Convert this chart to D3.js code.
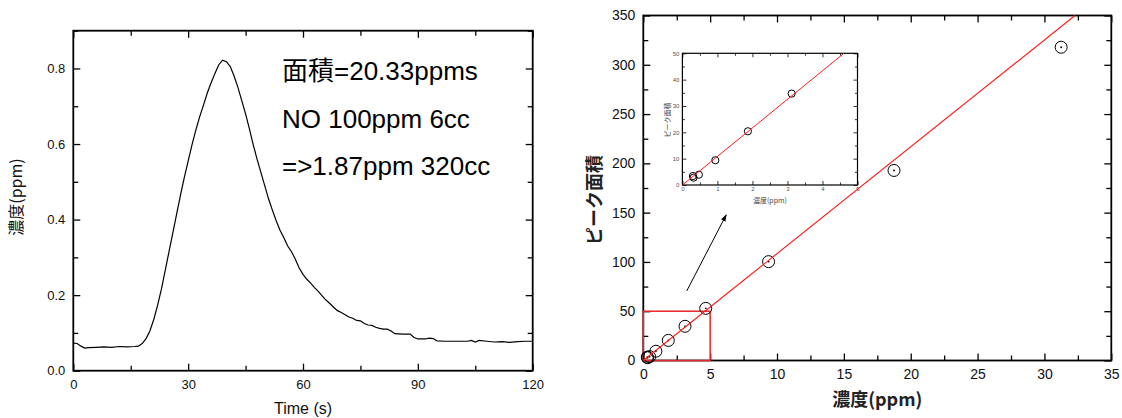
<!DOCTYPE html>
<html>
<head>
<meta charset="utf-8">
<script src="https://cdn.jsdelivr.net/npm/d3@7"></script>
<style>
  body { margin: 0; background: #fff; }
  svg text { font-family: "Liberation Sans", Arial, "Noto Sans CJK JP", sans-serif; }
  .jp { font-family: "Noto Sans CJK JP", "Liberation Sans", sans-serif; }
</style>
</head>
<body>
<div id="chart"></div>
<script>
// left: peak of NO (time vs conc)
var timeSec = [0, 1, 2, 3, 4, 6, 8, 10, 12, 14, 16, 17, 18, 19, 20, 21, 22, 23, 24, 25, 26, 27, 28, 29, 30,
    31, 32, 33, 34, 35, 36, 37, 38, 39, 40, 41, 42, 43, 44, 45, 46, 47, 48, 49, 50, 51, 52, 53, 54, 55, 56,
    57, 58, 59, 60, 61, 62, 63, 64, 65, 66, 67, 68, 69, 70, 71, 72, 73, 74, 75, 76, 77, 78, 79, 80, 81, 82,
    83, 84, 86, 88, 89, 90, 92, 93, 94, 95, 97, 100, 103, 104, 105, 106, 108, 110, 112, 114, 116, 118, 120];
var concPpm = [0.073, 0.072, 0.065, 0.060, 0.061, 0.062, 0.063, 0.062, 0.064, 0.063, 0.064, 0.065, 0.072, 0.085,
    0.105, 0.135, 0.172, 0.215, 0.265, 0.315, 0.365, 0.415, 0.465, 0.512, 0.555, 0.598, 0.637, 0.672, 0.703,
    0.735, 0.762, 0.787, 0.810, 0.822, 0.818, 0.805, 0.780, 0.750, 0.715, 0.680, 0.640, 0.598, 0.560, 0.525,
    0.490, 0.455, 0.425, 0.397, 0.372, 0.352, 0.330, 0.315, 0.295, 0.272, 0.255, 0.242, 0.232, 0.220, 0.210,
    0.198, 0.187, 0.178, 0.168, 0.159, 0.154, 0.148, 0.142, 0.139, 0.133, 0.132, 0.125, 0.121, 0.120, 0.115,
    0.112, 0.110, 0.110, 0.105, 0.098, 0.097, 0.097, 0.088, 0.084, 0.084, 0.086, 0.085, 0.079, 0.078, 0.078,
    0.078, 0.080, 0.076, 0.080, 0.078, 0.076, 0.077, 0.075, 0.077, 0.078, 0.078];
var noteLines = ["面積=20.33ppms", "NO 100ppm 6cc", "=>1.87ppm 320cc"];

// right: calibration (conc vs peak area)
var calibConc = [0.30, 0.32, 0.47, 0.94, 1.87, 3.12, 4.67, 9.37, 18.75, 31.25];
var calibArea = [3.4, 2.8, 3.9, 9.4, 20.4, 34.7, 52.9, 100.3, 192.8, 317.8];
var fitSlope = 10.84;
var zoomBox = [5, 50];          // red box = inset range
var arrowFrom = [3.25, 70.6];
var arrowTo = [6.2, 147.7];

var leftXTicks = [0, 30, 60, 90, 120];
var leftYTicks = [0.0, 0.2, 0.4, 0.6, 0.8];
var rightXTicks = [0, 5, 10, 15, 20, 25, 30, 35];
var rightYTicks = [0, 50, 100, 150, 200, 250, 300, 350];
var insetXTicks = [0, 1, 2, 3, 4, 5];
var insetYTicks = [0, 10, 20, 30, 40, 50];

var svg = d3.select("#chart").append("svg")
    .attr("width", 1122)
    .attr("height", 418);

svg.append("defs").append("marker")
    .attr("id", "arrowhead")
    .attr("viewBox", "0 0 10 10")
    .attr("refX", 9).attr("refY", 5)
    .attr("markerWidth", 7).attr("markerHeight", 7)
    .attr("orient", "auto")
    .append("path")
    .attr("d", "M0,1.5L10,5L0,8.5Z")
    .attr("fill", "#000");

// draws a box frame with inward ticks on all four sides
function drawFrame(g, x, y, o) {
    var xr = x.range(), yr = y.range();
    var sides = [
        { ax: d3.axisBottom(x), t: `translate(0,${yr[0]})`, labels: true, ticks: o.xTicks, minor: o.xMinor },
        { ax: d3.axisTop(x), t: `translate(0,${yr[1]})`, labels: false, ticks: o.xTicks, minor: o.xMinor },
        { ax: d3.axisLeft(y), t: `translate(${xr[0]},0)`, labels: true, ticks: o.yTicks, minor: o.yMinor },
        { ax: d3.axisRight(y), t: `translate(${xr[1]},0)`, labels: false, ticks: o.yTicks, minor: o.yMinor }
    ];
    sides.forEach(function(s, i) {
        var vert = i > 1;
        var major = g.append("g").attr("transform", s.t)
            .call(s.ax.tickValues(s.ticks)
                .tickSizeInner(-o.major).tickSizeOuter(0)
                .tickPadding(vert ? o.padY : o.padX)
                .tickFormat(s.labels ? o[vert ? "yFmt" : "xFmt"] : ""));
        major.select(".domain").remove();
        major.selectAll("line").attr("stroke", "#000").attr("stroke-width", o.tickW);
        major.selectAll("text").attr("font-size", o.font).attr("fill", o.labelColor);

        var ax2 = (i === 0 ? d3.axisBottom(x) : i === 1 ? d3.axisTop(x) : i === 2 ? d3.axisLeft(y) : d3.axisRight(y));
        var minor = g.append("g").attr("transform", s.t)
            .call(ax2.tickValues(s.minor).tickSizeInner(-o.minorLen).tickSizeOuter(0).tickFormat(""));
        minor.select(".domain").remove();
        minor.selectAll("line").attr("stroke", "#000").attr("stroke-width", o.tickW);
    });
    g.append("rect")
        .attr("x", xr[0]).attr("y", yr[1])
        .attr("width", xr[1] - xr[0]).attr("height", yr[0] - yr[1])
        .attr("fill", "none").attr("stroke", "#000").attr("stroke-width", o.frameW);
}

function mids(ticks) {
    var out = [];
    for (var i = 0; i < ticks.length - 1; i++) out.push((ticks[i] + ticks[i + 1]) / 2);
    return out;
}

// ---------- left chart ----------
var xL = d3.scaleLinear().domain([0, 120]).range([73.3, 532.7]);
var yL = d3.scaleLinear().domain([0, 0.9]).range([370.7, 30.7]);
var gL = svg.append("g");

drawFrame(gL, xL, yL, {
    xTicks: leftXTicks, yTicks: leftYTicks,
    xMinor: mids(leftXTicks), yMinor: mids(leftYTicks).concat([0.9]),
    major: 7, minorLen: 5, padX: 9, padY: 8, font: 13, labelColor: "#111",
    tickW: 1.3, frameW: 1.8,
    xFmt: d3.format("d"), yFmt: d3.format(".1f")
});

var peakLine = d3.line()
    .x(function(d, i) { return xL(timeSec[i]); })
    .y(function(d) { return yL(d); });
gL.append("path")
    .attr("d", peakLine(concPpm))
    .attr("fill", "none")
    .attr("stroke", "#000")
    .attr("stroke-width", 1.2);

gL.selectAll(".note")
    .data(noteLines)
    .enter()
    .append("text")
    .attr("class", "note")
    .attr("x", 282)
    .attr("y", function(d, i) { return 80 + i * 47.5; })
    .attr("font-size", 26)
    .attr("fill", "#000")
    .text(function(d) { return d; });

gL.append("text")
    .attr("class", "jp")
    .attr("transform", "translate(22,197) rotate(-90)")
    .attr("text-anchor", "middle")
    .attr("font-size", 16)
    .attr("fill", "#111")
    .text("濃度(ppm)");

gL.append("text")
    .attr("x", (xL.range()[0] + xL.range()[1]) / 2)
    .attr("y", 414)
    .attr("text-anchor", "middle")
    .attr("font-size", 16)
    .attr("fill", "#111")
    .text("Time (s)");

// ---------- right chart ----------
var xR = d3.scaleLinear().domain([0, 35]).range([643.3, 1111.3]);
var yR = d3.scaleLinear().domain([0, 350]).range([360.5, 15.5]);
var gR = svg.append("g");

drawFrame(gR, xR, yR, {
    xTicks: rightXTicks, yTicks: rightYTicks,
    xMinor: mids(rightXTicks), yMinor: mids(rightYTicks),
    major: 7, minorLen: 5, padX: 9, padY: 8, font: 14, labelColor: "#111",
    tickW: 1.3, frameW: 1.8,
    xFmt: d3.format("d"), yFmt: d3.format("d")
});

gR.append("rect")
    .attr("x", xR(0)).attr("y", yR(zoomBox[1]))
    .attr("width", xR(zoomBox[0]) - xR(0))
    .attr("height", yR(0) - yR(zoomBox[1]))
    .attr("fill", "none").attr("stroke", "#e8272b").attr("stroke-width", 1.5);

gR.selectAll(".pt")
    .data(calibConc)
    .enter()
    .append("circle")
    .attr("class", "pt")
    .attr("cx", function(d) { return xR(d); })
    .attr("cy", function(d, i) { return yR(calibArea[i]); })
    .attr("r", 6)
    .attr("fill", "none")
    .attr("stroke", "#000")
    .attr("stroke-width", 1);
gR.selectAll(".ptdot")
    .data(calibConc)
    .enter()
    .append("circle")
    .attr("class", "ptdot")
    .attr("cx", function(d) { return xR(d); })
    .attr("cy", function(d, i) { return yR(calibArea[i]); })
    .attr("r", 0.9)
    .attr("fill", "#000");

gR.append("line")
    .attr("x1", xR(0)).attr("y1", yR(0))
    .attr("x2", xR(350 / fitSlope)).attr("y2", yR(350))
    .attr("stroke", "#ff1a1a").attr("stroke-width", 1.1);

gR.append("line")
    .attr("x1", xR(arrowFrom[0])).attr("y1", yR(arrowFrom[1]))
    .attr("x2", xR(arrowTo[0])).attr("y2", yR(arrowTo[1]))
    .attr("stroke", "#000").attr("stroke-width", 1)
    .attr("marker-end", "url(#arrowhead)");

gR.append("text")
    .attr("class", "jp")
    .attr("transform", "translate(601,200) rotate(-90)")
    .attr("text-anchor", "middle")
    .attr("font-size", 18)
    .attr("font-weight", "bold")
    .attr("fill", "#222")
    .text("ピーク面積");

gR.append("text")
    .attr("class", "jp")
    .attr("x", (xR.range()[0] + xR.range()[1]) / 2)
    .attr("y", 406)
    .attr("text-anchor", "middle")
    .attr("font-size", 18)
    .attr("font-weight", "bold")
    .attr("fill", "#222")
    .text("濃度(ppm)");

// ---------- inset ----------
var xI = d3.scaleLinear().domain([0, 5]).range([682.4, 857.5]);
var yI = d3.scaleLinear().domain([0, 50]).range([185, 53.3]);
var gI = svg.append("g");

gI.append("rect")
    .attr("x", xI.range()[0]).attr("y", yI.range()[1])
    .attr("width", xI.range()[1] - xI.range()[0])
    .attr("height", yI.range()[0] - yI.range()[1])
    .attr("fill", "#fff");

drawFrame(gI, xI, yI, {
    xTicks: insetXTicks, yTicks: insetYTicks,
    xMinor: mids(insetXTicks), yMinor: mids(insetYTicks),
    major: 4, minorLen: 2.5, padX: 2, padY: 3, font: 6, labelColor: "#555",
    tickW: 0.8, frameW: 1.2,
    xFmt: d3.format("d"), yFmt: d3.format("d")
});

gI.selectAll(".ipt")
    .data(insetConc = calibConc.slice(0, 6))
    .enter()
    .append("circle")
    .attr("class", "ipt")
    .attr("cx", function(d) { return xI(d); })
    .attr("cy", function(d, i) { return yI(calibArea[i]); })
    .attr("r", 3.6)
    .attr("fill", "none")
    .attr("stroke", "#000")
    .attr("stroke-width", 1);

gI.append("line")
    .attr("x1", xI(0)).attr("y1", yI(0))
    .attr("x2", xI(50 / fitSlope)).attr("y2", yI(50))
    .attr("stroke", "#ff1a1a").attr("stroke-width", 1);

gI.append("text")
    .attr("class", "jp")
    .attr("transform", "translate(670,120) rotate(-90)")
    .attr("text-anchor", "middle")
    .attr("font-size", 7)
    .attr("fill", "#444")
    .text("ピーク面積");

gI.append("text")
    .attr("class", "jp")
    .attr("x", (xI.range()[0] + xI.range()[1]) / 2)
    .attr("y", 203)
    .attr("text-anchor", "middle")
    .attr("font-size", 7)
    .attr("fill", "#444")
    .text("濃度(ppm)");
</script>
</body>
</html>
